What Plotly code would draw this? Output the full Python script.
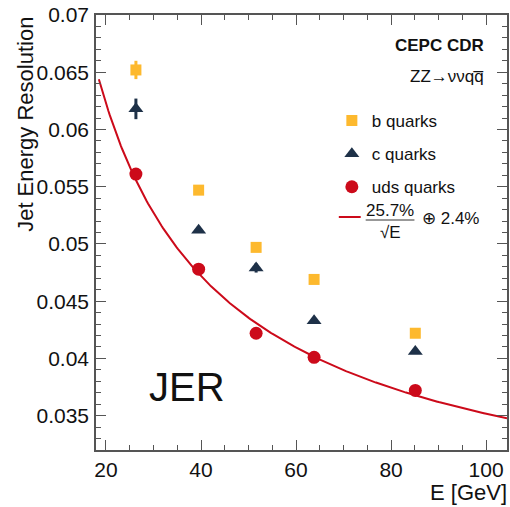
import numpy as np
import plotly.graph_objects as go

# ---- data ----
energy = [26.3, 39.5, 51.6, 63.8, 85.1]
b_res = [0.0652, 0.0547, 0.0497, 0.0469, 0.0422]
b_err = [0.0008, 0.0003, 0.0003, 0.0001, 0.0001]
c_res = [0.0618, 0.0512, 0.0479, 0.0433, 0.0406]
c_err = [0.0009, 0.0002, 0.0004, 0.0002, 0.0002]
uds_res = [0.0561, 0.0478, 0.0422, 0.0401, 0.0372]
uds_err = [0.0001, 0.0001, 0.0001, 0.0001, 0.0001]
# fit shown in legend: 25.7%/sqrt(E) (+) 2.4%
fit_stoch = 0.257
fit_const = 0.024
fit_range = [18.5, 104.4]

YELLOW = "#fdb92e"
NAVY = "#1e3148"
RED = "#cc0a1a"
FONT = "Liberation Sans, Arial, sans-serif"

e_fit = np.linspace(fit_range[0], fit_range[1], 300)
r_fit = np.sqrt(fit_stoch**2 / e_fit + fit_const**2)

fig = go.Figure()
fig.add_trace(go.Scatter(x=e_fit, y=r_fit, mode="lines", line=dict(color=RED, width=2),
                         showlegend=False, hoverinfo="skip"))
fig.add_trace(go.Scatter(x=energy, y=b_res, mode="markers", name="b quarks", legendgroup="b",
                         marker=dict(symbol="square", size=11, color=YELLOW),
                         error_y=dict(type="data", array=b_err, color=YELLOW, thickness=3, width=0)))
fig.add_trace(go.Scatter(x=energy, y=c_res, mode="markers", name="c quarks", legendgroup="c",
                         marker=dict(symbol="triangle-up", size=13, color=NAVY),
                         error_y=dict(type="data", array=c_err, color=NAVY, thickness=3, width=0)))
fig.add_trace(go.Scatter(x=energy, y=uds_res, mode="markers", name="uds quarks", legendgroup="uds",
                         marker=dict(symbol="circle", size=13, color=RED),
                         error_y=dict(type="data", array=uds_err, color=RED, thickness=3, width=0)))

axis_common = dict(showgrid=False, zeroline=False, showline=True, linecolor="#555", linewidth=1.5,
                   mirror="ticks", ticks="inside", tickcolor="#555", tickwidth=1.2,
                   tickfont=dict(family=FONT, size=21, color="#111"))

fig.update_xaxes(range=[17.9, 104.4], tick0=0, dtick=20, ticklen=10,
                 minor=dict(ticks="inside", ticklen=5, dtick=5, tickcolor="#555"), **axis_common)
fig.update_yaxes(range=[0.032, 0.07], tick0=0, dtick=0.005, ticklen=10, tickformat="~g",
                 ticklabelstandoff=1,
                 minor=dict(ticks="inside", ticklen=5, dtick=0.001, tickcolor="#555"), **axis_common)

W, H = 510, 507
ml, mr, mt, mb = 96, 1, 15, 57
pw, ph = W - ml - mr, H - mt - mb

def px(x):
    return (x - ml) / pw

def py(y):
    return 1 - (y - mt) / ph

ann = []
def add_text(text, x, y, size, xanchor="left", yanchor="middle", bold=False, angle=0):
    ann.append(dict(text=("<b>%s</b>" % text) if bold else text, xref="paper", yref="paper",
                    x=px(x), y=py(y), xanchor=xanchor, yanchor=yanchor, showarrow=False,
                    textangle=angle, font=dict(family=FONT, size=size, color="#111")))

add_text("Jet Energy Resolution", 25, 15, 22, xanchor="center", yanchor="top", angle=-90)
add_text("E [GeV]", 430, 493, 22)
add_text("JER", 187, 387, 40, xanchor="center")
add_text("CEPC CDR", 488, 45, 17, xanchor="right", bold=True)
add_text("ZZ\u2192\u03bd\u03bdqq\u0305", 488, 76, 17, xanchor="right")
add_text("25.7%", 391, 210, 17, xanchor="center")
add_text("\u221aE", 392, 232, 17, xanchor="center")
add_text("\u2295 2.4%", 422, 218, 17)

shapes = [
    dict(type="line", xref="paper", yref="paper", x0=px(367), x1=px(416), y0=py(220), y1=py(220),
         line=dict(color="#333", width=1)),
    dict(type="line", xref="paper", yref="paper", x0=px(340), x1=px(362), y0=py(217), y1=py(217),
         line=dict(color=RED, width=2)),
]

fig.update_layout(
    width=W, height=H, margin=dict(l=ml, r=mr, t=mt, b=mb),
    paper_bgcolor="white", plot_bgcolor="white",
    annotations=ann, shapes=shapes,
    legend=dict(x=px(333), y=py(103), xanchor="left", yanchor="top", bgcolor="rgba(0,0,0,0)",
                font=dict(family=FONT, size=17, color="#111"), tracegroupgap=8,
                traceorder="grouped", itemwidth=30),
    showlegend=True,
)

fig.write_html("out.html")
